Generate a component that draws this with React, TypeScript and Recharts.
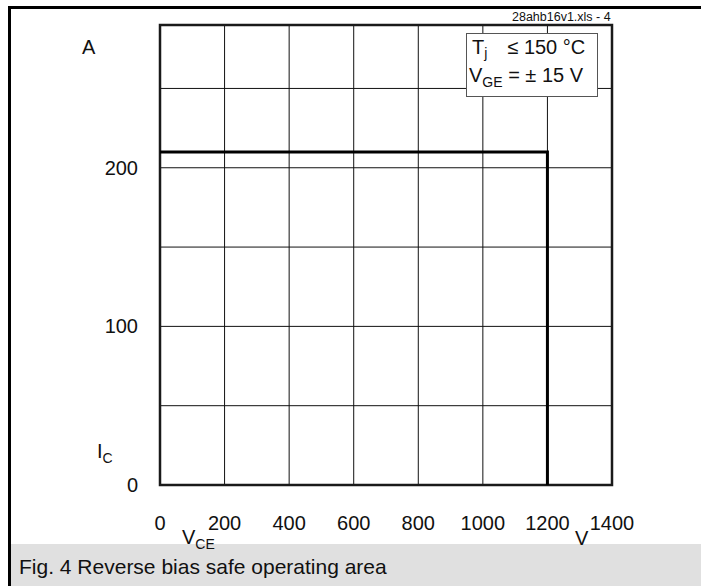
import React from "react";
import { LineChart, Line, XAxis, YAxis, CartesianGrid, ReferenceArea } from "recharts";

const VCE = [0, 1200, 1200];
const IC = [210, 210, 0];
const X_TICKS = [0, 200, 400, 600, 800, 1000, 1200, 1400];
const Y_TICKS = [0, 50, 100, 150, 200, 250];
const Y_LABELED = [0, 100, 200];

const data = VCE.map((v, i) => ({ vce: v, ic: IC[i] }));

const FONT = "'Liberation Sans', Arial, sans-serif";

function YTick({ x, y, payload }: any) {
  if (!Y_LABELED.includes(payload.value)) return null;
  return (
    <text x={x - 14} y={y} textAnchor="end" dominantBaseline="central" fontSize={20} fill="#111" fontFamily={FONT}>
      {payload.value}
    </text>
  );
}

function XTick({ x, y, payload }: any) {
  return (
    <text x={x} y={y + 30} textAnchor="middle" dominantBaseline="central" fontSize={20} fill="#111" fontFamily={FONT}>
      {payload.value}
    </text>
  );
}

const abs = (left: number, top: number, extra: React.CSSProperties = {}): React.CSSProperties => ({
  position: "absolute",
  left,
  top,
  fontFamily: FONT,
  color: "#111",
  lineHeight: 1,
  whiteSpace: "nowrap",
  ...extra,
});

export default function App() {
  return (
    <div style={{ position: "absolute", left: 0, top: 0, width: 701, height: 586, background: "#fff", overflow: "hidden" }}>
      <LineChart width={701} height={586} data={data} margin={{ top: 25, right: 89, bottom: 0, left: 0 }}>
        <CartesianGrid stroke="#111" strokeWidth={1} />
        <XAxis
          dataKey="vce"
          type="number"
          domain={[0, 1400]}
          ticks={X_TICKS}
          axisLine={false}
          tickLine={false}
          tick={<XTick />}
          height={101}
        />
        <YAxis
          type="number"
          domain={[0, 290]}
          ticks={Y_TICKS}
          axisLine={false}
          tickLine={false}
          tick={<YTick />}
          width={160}
        />
        <ReferenceArea x1={0} x2={1400} y1={0} y2={290} fill="none" stroke="#1a1a1a" strokeWidth={2.5} ifOverflow="visible" />
        <Line dataKey="ic" type="linear" stroke="#000" strokeWidth={3} dot={false} isAnimationActive={false} />
      </LineChart>

      {/* frame */}
      <div style={{ position: "absolute", left: 8, top: 6, right: 0, height: 3, background: "#000" }} />
      <div style={{ position: "absolute", left: 8, top: 6, width: 3, bottom: 0, background: "#000" }} />
      <div style={{ position: "absolute", left: 11, top: 544, right: 0, bottom: 0, background: "#e0e0e0" }} />
      <div style={abs(19, 556, { fontSize: 21 })}>Fig. 4 Reverse bias safe operating area</div>

      <div style={abs(512, 11, { fontSize: 12.5 })}>28ahb16v1.xls - 4</div>

      {/* conditions box */}
      <div style={{ position: "absolute", left: 466, top: 33, width: 132, height: 64, background: "#fff", border: "1px solid #555", boxSizing: "border-box" }} />
      <div style={abs(472, 37, { fontSize: 20 })}>
        T<sub style={{ fontSize: 14, verticalAlign: "-4px" }}>j</sub>
        <span style={{ marginLeft: 20 }}>≤ 150 °C</span>
      </div>
      <div style={abs(469, 65, { fontSize: 20 })}>
        V<sub style={{ fontSize: 14, verticalAlign: "-5px" }}>GE</sub> = ± 15 V
      </div>

      {/* axis labels */}
      <div style={abs(82, 37, { fontSize: 20 })}>A</div>
      <div style={abs(97, 441, { fontSize: 20 })}>
        I<sub style={{ fontSize: 14, verticalAlign: "-5px" }}>C</sub>
      </div>
      <div style={abs(182, 527, { fontSize: 20 })}>
        V<sub style={{ fontSize: 14, verticalAlign: "-5px" }}>CE</sub>
      </div>
      <div style={abs(575, 528, { fontSize: 20 })}>V</div>
    </div>
  );
}
